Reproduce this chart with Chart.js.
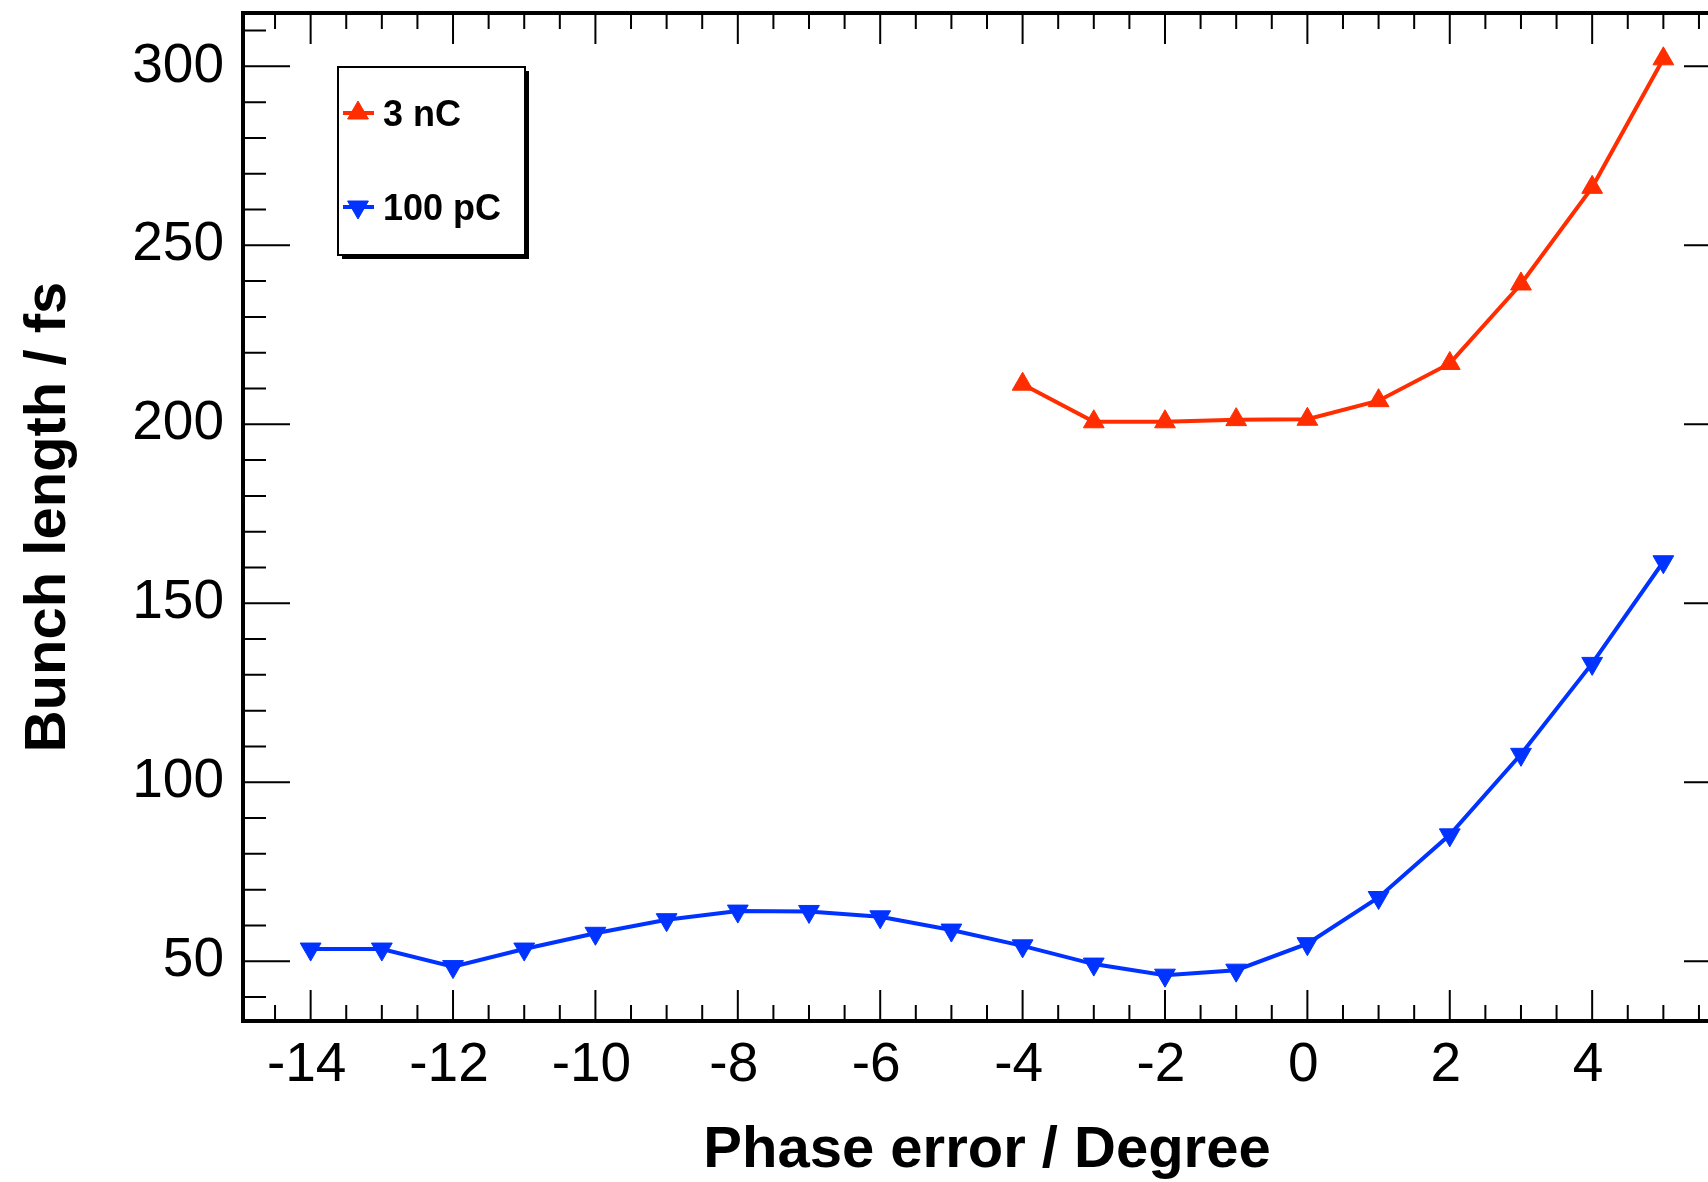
<!DOCTYPE html>
<html>
<head>
<meta charset="utf-8">
<title>Bunch length vs phase error</title>
<script src="https://cdn.jsdelivr.net/npm/chart.js@4.4.1/dist/chart.umd.min.js"></script>
<style>
    html, body { margin: 0; padding: 0; background: #fff; }
    #wrap { width: 1708px; height: 1182px; overflow: hidden; }
</style>
</head>
<body>
<div id="wrap"><canvas id="bunchChart" width="1760" height="1182"></canvas></div>
<script>
// phase scan, 3 nC working point
const phase3nC = [-4, -3, -2, -1, 0, 1, 2, 3, 4, 5];
const length3nC = [211.2, 200.7, 200.7, 201.3, 201.4, 206.6, 217.0, 239.2, 266.2, 302.1];

// phase scan, 100 pC working point
const phase100pC = [-14, -13, -12, -11, -10, -9, -8, -7, -6, -5, -4, -3, -2, -1, 0, 1, 2, 3, 4, 5];
const length100pC = [53.4, 53.4, 48.5, 53.4, 57.8, 61.6, 64.0, 63.9, 62.4, 58.7,
                     54.3, 49.2, 46.1, 47.5, 54.9, 67.8, 85.3, 107.8, 133.2, 161.6];

// axis ranges and labelled ticks
const xRange = [-14.95, 5.95];
const yRange = [33.3, 314.9];
const xLabelTicks = [-14, -12, -10, -8, -6, -4, -2, 0, 2, 4];
const yLabelTicks = [50, 100, 150, 200, 250, 300];
const xMinorStep = 0.5;
const yMinorStep = 10;

const RED = '#ff2d00';
const BLUE = '#0033ff';
const FONT = "'Liberation Sans', Arial, Helvetica, sans-serif";

function stepTicks(min, max, step) {
    const out = [];
    for (let i = Math.ceil(min / step); i <= Math.floor(max / step); i++) {
        out.push({ value: +(i * step).toFixed(6) });
    }
    return out;
}

function toPoints(xs, ys) {
    return xs.map((x, i) => ({ x: x, y: ys[i] }));
}

// frame with inward ticks on all four sides, x labels set close under the frame
const frameTicks = {
    id: 'frameTicks',
    beforeDatasetsDraw(chart) {
        const { ctx, chartArea: a, scales: { x, y } } = chart;
        ctx.save();
        ctx.strokeStyle = '#000';
        ctx.lineWidth = 2;
        ctx.beginPath();
        x.ticks.forEach(t => {
            const px = x.getPixelForValue(t.value);
            const len = xLabelTicks.includes(t.value) ? 31 : 16;
            ctx.moveTo(px, a.bottom);
            ctx.lineTo(px, a.bottom - len);
            ctx.moveTo(px, a.top);
            ctx.lineTo(px, a.top + len);
        });
        y.ticks.forEach(t => {
            const py = y.getPixelForValue(t.value);
            const len = yLabelTicks.includes(t.value) ? 47 : 23;
            ctx.moveTo(a.left, py);
            ctx.lineTo(a.left + len, py);
            ctx.moveTo(a.right, py);
            ctx.lineTo(a.right - len, py);
        });
        ctx.stroke();
        ctx.lineWidth = 4;
        ctx.strokeRect(a.left, a.top, a.right - a.left, a.bottom - a.top);

        ctx.fillStyle = '#000';
        ctx.font = '55px ' + FONT;
        ctx.textAlign = 'center';
        ctx.textBaseline = 'alphabetic';
        xLabelTicks.forEach(v => {
            ctx.fillText(String(v), x.getPixelForValue(v) - 4, a.bottom + 60);
        });
        ctx.restore();
    }
};

// boxed legend with drop shadow, top left of the frame
const boxLegend = {
    id: 'boxLegend',
    afterDraw(chart) {
        const ctx = chart.ctx;
        const left = 338, top = 67, w = 187, h = 188;
        const rows = [113, 207];
        ctx.save();
        ctx.fillStyle = '#000';
        ctx.fillRect(left + 4, top + 4, w, h);
        ctx.fillStyle = '#fff';
        ctx.fillRect(left, top, w, h);
        ctx.strokeStyle = '#000';
        ctx.lineWidth = 2;
        ctx.strokeRect(left, top, w, h);

        chart.data.datasets.forEach((ds, i) => {
            const ry = rows[i];
            ctx.strokeStyle = ds.borderColor;
            ctx.lineWidth = 4;
            ctx.beginPath();
            ctx.moveTo(left + 5, ry);
            ctx.lineTo(left + 36, ry);
            ctx.stroke();
            ctx.fillStyle = ds.borderColor;
            ctx.lineWidth = 1;
            Chart.helpers.drawPoint(ctx, {
                pointStyle: ds.pointStyle,
                rotation: ds.pointRotation,
                radius: 12,
                borderWidth: 1
            }, left + 20, ry);
            ctx.fillStyle = '#000';
            ctx.font = 'bold 36px ' + FONT;
            ctx.textAlign = 'left';
            ctx.textBaseline = 'alphabetic';
            ctx.fillText(ds.label, left + 45, ry + 13);
        });
        ctx.restore();
    }
};

new Chart(document.getElementById('bunchChart'), {
    type: 'line',
    data: {
        datasets: [
            {
                label: '3 nC',
                data: toPoints(phase3nC, length3nC),
                borderColor: RED,
                backgroundColor: RED,
                borderWidth: 4,
                pointStyle: 'triangle',
                pointRotation: 0,
                pointRadius: 12,
                pointHoverRadius: 12,
                pointBorderWidth: 1,
                tension: 0,
                fill: false
            },
            {
                label: '100 pC',
                data: toPoints(phase100pC, length100pC),
                borderColor: BLUE,
                backgroundColor: BLUE,
                borderWidth: 4,
                pointStyle: 'triangle',
                pointRotation: 180,
                pointRadius: 12,
                pointHoverRadius: 12,
                pointBorderWidth: 1,
                tension: 0,
                fill: false
            }
        ]
    },
    options: {
        responsive: false,
        animation: false,
        events: [],
        layout: {
            padding: { left: 0, top: 13, right: 29, bottom: 0 }
        },
        plugins: {
            legend: { display: false },
            tooltip: { enabled: false }
        },
        scales: {
            x: {
                type: 'linear',
                min: xRange[0],
                max: xRange[1],
                grid: { display: false, drawTicks: false },
                border: { display: false },
                afterBuildTicks: scale => {
                    scale.ticks = stepTicks(xRange[0], xRange[1], xMinorStep);
                },
                afterFit: scale => {
                    scale.height = 161;
                    scale.paddingLeft = 0;
                    scale.paddingRight = 0;
                },
                ticks: { display: false },
                title: {
                    display: true,
                    text: 'Phase error / Degree',
                    color: '#000',
                    font: { family: FONT, size: 58, weight: 'bold' },
                    padding: { top: 0, bottom: -4 }
                }
            },
            y: {
                type: 'linear',
                min: yRange[0],
                max: yRange[1],
                grid: { display: false, drawTicks: false },
                border: { display: false },
                afterBuildTicks: scale => {
                    scale.ticks = stepTicks(yRange[0], yRange[1], yMinorStep);
                },
                afterFit: scale => {
                    scale.width = 243;
                    scale.paddingTop = 0;
                    scale.paddingBottom = 0;
                },
                ticks: {
                    autoSkip: false,
                    padding: 19,
                    color: '#000',
                    font: { family: FONT, size: 55 },
                    callback: value => yLabelTicks.includes(value) ? String(value) : ''
                },
                title: {
                    display: true,
                    text: 'Bunch length / fs',
                    color: '#000',
                    font: { family: FONT, size: 58, weight: 'bold' },
                    padding: { top: 14, bottom: 0 }
                }
            }
        }
    },
    plugins: [frameTicks, boxLegend]
});
</script>
</body>
</html>
